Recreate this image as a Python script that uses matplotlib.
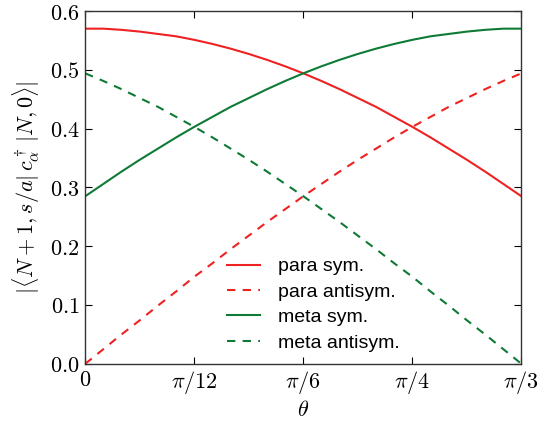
import numpy as np
import matplotlib
matplotlib.use("Agg")
import matplotlib.pyplot as plt

plt.rcParams['mathtext.fontset'] = 'cm'
plt.rcParams['font.family'] = 'serif'
plt.rcParams['font.serif'] = ['DejaVu Serif']

# theta sample points in units of pi/72 (0 .. 24 -> 0 .. pi/3)
theta_steps = list(range(25))
para_sym = [0.570, 0.570, 0.568, 0.565, 0.561, 0.557, 0.551, 0.544, 0.536, 0.527, 0.517, 0.506, 0.494,
            0.481, 0.467, 0.452, 0.437, 0.420, 0.403, 0.385, 0.366, 0.347, 0.327, 0.306, 0.285]
para_antisym = [0.000, 0.025, 0.050, 0.074, 0.099, 0.123, 0.148, 0.171, 0.195, 0.218, 0.241, 0.263, 0.285,
                0.306, 0.327, 0.347, 0.366, 0.385, 0.403, 0.420, 0.437, 0.452, 0.467, 0.481, 0.494]
meta_sym = [0.285, 0.306, 0.327, 0.347, 0.366, 0.385, 0.403, 0.420, 0.437, 0.452, 0.467, 0.481, 0.494,
            0.506, 0.517, 0.527, 0.536, 0.544, 0.551, 0.557, 0.561, 0.565, 0.568, 0.570, 0.570]
meta_antisym = [0.494, 0.481, 0.467, 0.452, 0.437, 0.420, 0.403, 0.385, 0.366, 0.347, 0.327, 0.306, 0.285,
                0.263, 0.241, 0.218, 0.195, 0.171, 0.148, 0.123, 0.099, 0.074, 0.050, 0.025, 0.000]
labels = ['para sym.', 'para antisym.', 'meta sym.', 'meta antisym.']
xtick_labels = [r'$0$', r'$\pi/12$', r'$\pi/6$', r'$\pi/4$', r'$\pi/3$']
ytick_vals = [0.0, 0.1, 0.2, 0.3, 0.4, 0.5, 0.6]

theta = np.array(theta_steps) * np.pi / 72

red = '#ee2222'
green = '#0f7a35'

fig = plt.figure(figsize=(5.5, 4.24), dpi=100)
ax = fig.add_axes([0.155, 0.142, 0.793, 0.832])

ax.plot(theta, para_sym, color=red, lw=1.5, ls='-', label=labels[0])
ax.plot(theta, para_antisym, color=red, lw=1.5, ls=(0, (4, 3.5)), label=labels[1])
ax.plot(theta, meta_sym, color=green, lw=1.5, ls='-', label=labels[2])
ax.plot(theta, meta_antisym, color=green, lw=1.5, ls=(0, (4, 3.5)), label=labels[3])

ax.set_xlim(0, np.pi / 3)
ax.set_ylim(0, 0.6)
ax.set_xticks([0, np.pi / 12, np.pi / 6, np.pi / 4, np.pi / 3])
ax.set_xticklabels(xtick_labels)
ax.set_yticks(ytick_vals)
ax.set_yticklabels([r'$%.1f$' % v for v in ytick_vals])
ax.tick_params(direction='in', top=True, right=True, labelsize=16, length=5, width=0.8, pad=4)
for s in ax.spines.values():
    s.set_linewidth(1.0)
    s.set_color('#333333')

ax.set_xlabel(r'$\theta$', fontsize=16, labelpad=2)
ax.set_ylabel(r'$|\langle N+1,s/a|\,c^\dagger_\alpha\,|N,0\rangle|$', fontsize=16, labelpad=6)

leg = ax.legend(loc='lower left', bbox_to_anchor=(0.285, -0.015), frameon=False,
                prop={'family': 'Liberation Sans', 'size': 14},
                handlelength=1.7, labelspacing=0.4, handletextpad=0.9)

fig.savefig('out.png', dpi=100)
